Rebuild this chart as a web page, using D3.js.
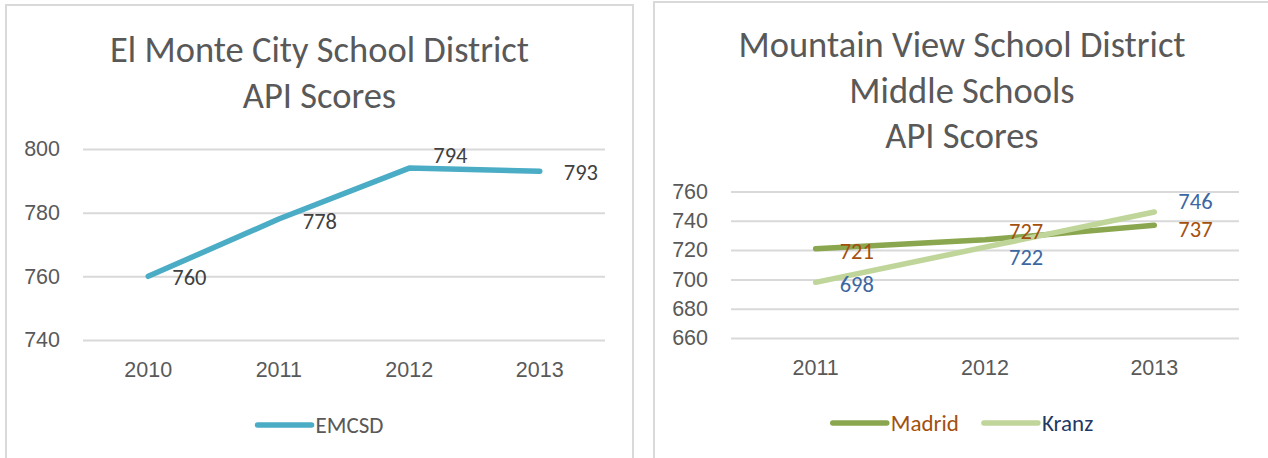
<!DOCTYPE html>
<html>
<head>
<meta charset="utf-8">
<script src="https://cdn.jsdelivr.net/npm/d3@7"></script>
<style>
  body { margin: 0; background: #fff; }
  svg { display: block; font-family: Carlito, Calibri, Lato, "Open Sans", sans-serif; }
</style>
</head>
<body>
<div id="graph"></div>
<script>
// ---- data ----
const emTitle = ['El Monte City School District', 'API Scores'];
const emYears = ['2010', '2011', '2012', '2013'];
const emcsdScores = [760, 778, 794, 793];
const emTicks = [740, 760, 780, 800];

const mvTitle = ['Mountain View School District', 'Middle Schools', 'API Scores'];
const mvYears = ['2011', '2012', '2013'];
const madridScores = [721, 727, 737];
const kranzScores = [698, 722, 746];
const mvTicks = [660, 680, 700, 720, 740, 760];

// vertical nudges of the data labels (Excel had some dragged a bit)
const emLabelNudge = [1, 2, -13, 1];
const madridLabelNudge = [3, -8, 4];
const kranzLabelNudge = [2, 10, -11];

const W = 1268, H = 458;
const gridColor = '#d9d9d9';
const textColor = '#595959';
const axisFont = '21.5px';
const labelFont = '22.5px';

const svg = d3.select('#graph').append('svg')
  .attr('width', W)
  .attr('height', H);

function drawPanel(cfg) {
  const g = svg.append('g');

  // panel frame (bottom and right edges run off the picture)
  g.append('rect')
    .attr('x', cfg.frame[0]).attr('y', cfg.frame[1])
    .attr('width', cfg.frame[2]).attr('height', cfg.frame[3])
    .attr('fill', '#fff')
    .attr('stroke', gridColor)
    .attr('stroke-width', 2);

  const cx = cfg.frame[0] + cfg.frame[2] / 2;

  // title lines
  g.selectAll('.title')
    .data(cfg.title)
    .enter()
    .append('text')
    .attr('x', cx)
    .attr('y', (d, i) => cfg.titleTop + i * 45.5)
    .attr('text-anchor', 'middle')
    .style('font-size', '36.5px')
    .attr('fill', textColor)
    .text(d => d);

  const x = d3.scaleBand()
    .domain(cfg.years)
    .range(cfg.xRange)
    .padding(0);

  const y = d3.scaleLinear()
    .domain(d3.extent(cfg.ticks))
    .range(cfg.yRange);

  // gridlines
  g.append('g')
    .attr('transform', 'translate(' + cfg.xRange[0] + ',0)')
    .call(d3.axisLeft(y).tickValues(cfg.ticks).tickSize(-(cfg.xRange[1] - cfg.xRange[0])).tickFormat(''))
    .call(a => a.select('.domain').remove())
    .selectAll('line')
    .attr('stroke', gridColor)
    .attr('stroke-width', 2);

  // y labels
  g.append('g')
    .attr('transform', 'translate(' + cfg.yLabelRight + ',0)')
    .call(d3.axisLeft(y).tickValues(cfg.ticks).tickSize(0).tickPadding(0))
    .call(a => a.select('.domain').remove())
    .selectAll('text')
    .attr('fill', textColor)
    .style('font-size', axisFont);

  // x labels
  g.append('g')
    .attr('transform', 'translate(0,' + cfg.xLabelY + ')')
    .call(d3.axisBottom(x).tickSize(0).tickPadding(0))
    .call(a => a.select('.domain').remove())
    .selectAll('text')
    .attr('fill', textColor)
    .attr('dy', '0')
    .style('font-size', axisFont);

  const line = d3.line()
    .x((d, i) => x(cfg.years[i]) + x.bandwidth() / 2)
    .y(d => y(d));

  cfg.series.forEach(s => {
    g.append('path')
      .datum(s.values)
      .attr('d', line)
      .attr('fill', 'none')
      .attr('stroke', s.color)
      .attr('stroke-width', 5.5)
      .attr('stroke-linecap', 'round')
      .attr('stroke-linejoin', 'round');
  });

  // data labels sit to the right of each point
  cfg.series.forEach(s => {
    g.selectAll(null)
      .data(s.values)
      .enter()
      .append('text')
      .attr('x', (d, i) => x(cfg.years[i]) + x.bandwidth() / 2 + 24)
      .attr('y', (d, i) => y(d) + s.nudge[i])
      .attr('dominant-baseline', 'central')
      .style('font-size', labelFont)
      .attr('fill', s.labelColor)
      .text(d => d);
  });

  // legend, centred under the panel
  const leg = g.append('g');
  let pos = 0;
  cfg.series.forEach((s, i) => {
    if (i > 0) pos += 23;
    leg.append('line')
      .attr('x1', pos + 2).attr('x2', pos + 56)
      .attr('y1', 0).attr('y2', 0)
      .attr('stroke', s.color)
      .attr('stroke-width', 5.5)
      .attr('stroke-linecap', 'round');
    const t = leg.append('text')
      .attr('x', pos + 60)
      .attr('y', 0)
      .attr('dominant-baseline', 'central')
      .style('font-size', '23px')
      .attr('fill', s.legendColor)
      .text(s.name);
    pos += 60 + t.node().getComputedTextLength();
  });
  leg.attr('transform', 'translate(' + (cx - pos / 2) + ',' + cfg.legendY + ')');
}

drawPanel({
  frame: [6, 5, 627, 480],
  title: emTitle,
  titleTop: 62,
  years: emYears,
  ticks: emTicks,
  xRange: [83, 605],
  yRange: [340, 149],
  yLabelRight: 60,
  xLabelY: 377,
  legendY: 425,
  series: [
    { name: 'EMCSD', values: emcsdScores, color: '#4bacc6', labelColor: '#404040', legendColor: textColor, nudge: emLabelNudge }
  ]
});

drawPanel({
  frame: [654, 2, 616, 480],
  title: mvTitle,
  titleTop: 57,
  years: mvYears,
  ticks: mvTicks,
  xRange: [731, 1239],
  yRange: [338, 191.5],
  yLabelRight: 708,
  xLabelY: 375,
  legendY: 423,
  series: [
    { name: 'Madrid', values: madridScores, color: '#8aa64e', labelColor: '#a3500f', legendColor: '#a3500f', nudge: madridLabelNudge },
    { name: 'Kranz', values: kranzScores, color: '#c0d59a', labelColor: '#3c67a2', legendColor: '#1f3864', nudge: kranzLabelNudge }
  ]
});
</script>
</body>
</html>
